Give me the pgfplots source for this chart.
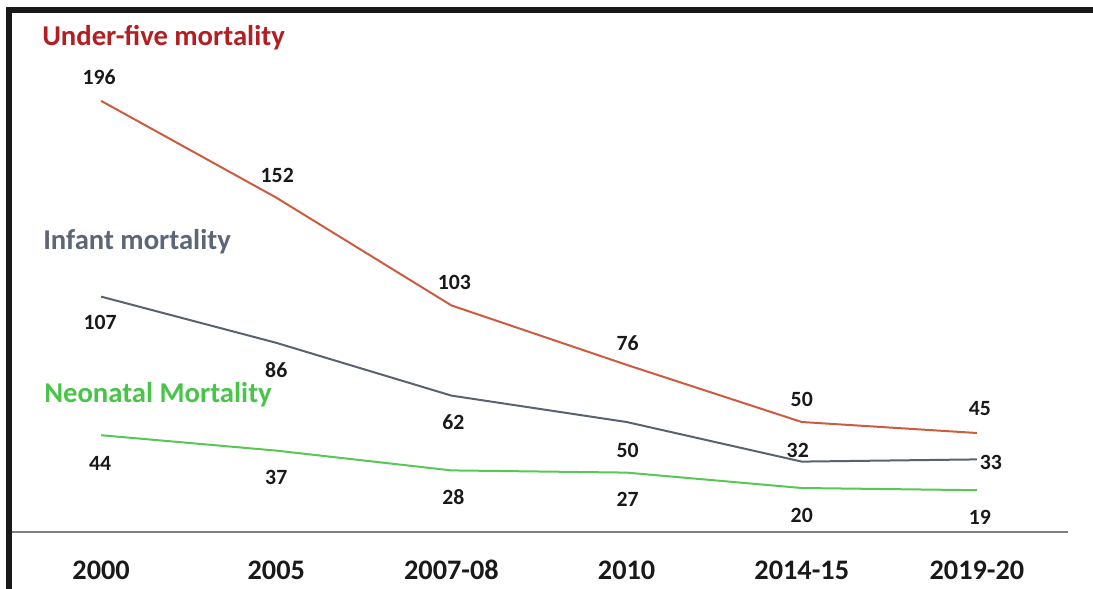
\documentclass[border=0pt]{standalone}
\usepackage{pgfplots}
\pgfplotsset{compat=1.18}
\usepackage{pgfplotstable}
\usepackage{fontspec}
\setmainfont{Carlito}
\definecolor{ufline}{RGB}{205,92,62}
\definecolor{uftext}{RGB}{180,30,35}
\definecolor{infline}{RGB}{88,98,112}
\definecolor{inftext}{RGB}{92,102,118}
\definecolor{neoline}{RGB}{85,200,85}
\definecolor{neotext}{RGB}{72,196,72}

\pgfplotstableread{
x y dx dy
0 196 -1.5 18
1 152 0.75 16.5
2 103 2.25 17.25
3 76 0.75 16.5
4 50 0 17.25
5 45 2.25 18
}\underfive

\pgfplotstableread{
x y dx dy
0 107 -0.75 -19.5
1 86 0 -20.25
2 62 1.5 -20.25
3 50 0.75 -21
4 32 -3 8.25
5 33 10.5 -2.25
}\infant

\pgfplotstableread{
x y dx dy
0 44 -0.75 -21
1 37 0 -20.25
2 28 1.5 -20.25
3 27 0.75 -20.25
4 20 0 -20.25
5 19 2.25 -20.25
}\neonatal

\begin{document}
\begin{tikzpicture}
\useasboundingbox (0,0) rectangle (819.75pt,441.75pt);
\begin{axis}[
  at={(7.5pt,42.75pt)}, anchor=south west,
  scale only axis, width=793.5pt, height=391.5pt,
  xmin=-0.52, xmax=5.52, ymin=0, ymax=237.3,
  clip=false,
  axis x line*=bottom,
  hide y axis,
  x axis line style={draw=black!50, line width=1.6pt},
  xtick={0,1,2,3,4,5},
  xticklabels={2000,2005,2007-08,2010,2014-15,2019-20},
  major tick length=0pt,
  xticklabel style={anchor=center, yshift=-28.5pt, font=\bfseries\fontsize{21.2}{24}\selectfont, text=black!90},
  every axis plot/.append style={line width=1.5pt, mark=none},
  nodes near coords={\pgfplotspointmeta},
  point meta=explicit symbolic,
  visualization depends on={\thisrow{dx}\as\dx},
  visualization depends on={\thisrow{dy}\as\dy},
  every node near coord/.append style={anchor=center, xshift=\dx pt, yshift=\dy pt, inner sep=0pt, font=\bfseries\fontsize{16.3}{18}\selectfont, text=black!90},
]
\addplot[ufline] table[x=x, y=y, meta=y] {\underfive};
\addplot[infline] table[x=x, y=y, meta=y] {\infant};
\addplot[neoline] table[x=x, y=y, meta=y] {\neonatal};
\end{axis}
\draw[line width=4.5pt, black!90, line join=miter, line cap=rect] (6.75pt,-3pt) -- (6.75pt,434.25pt) -- (823pt,434.25pt);
\node[anchor=west, inner sep=0pt, text=uftext, font=\bfseries\fontsize{21.5}{24}\selectfont] at (31.5pt,413.25pt) {Under-five mortality};
\node[anchor=west, inner sep=0pt, text=inftext, font=\bfseries\fontsize{21.5}{24}\selectfont] at (32.25pt,260.25pt) {Infant mortality};
\node[anchor=west, inner sep=0pt, text=neotext, font=\bfseries\fontsize{21.5}{24}\selectfont] at (33pt,145.5pt) {Neonatal Mortality};
\end{tikzpicture}
\end{document}
